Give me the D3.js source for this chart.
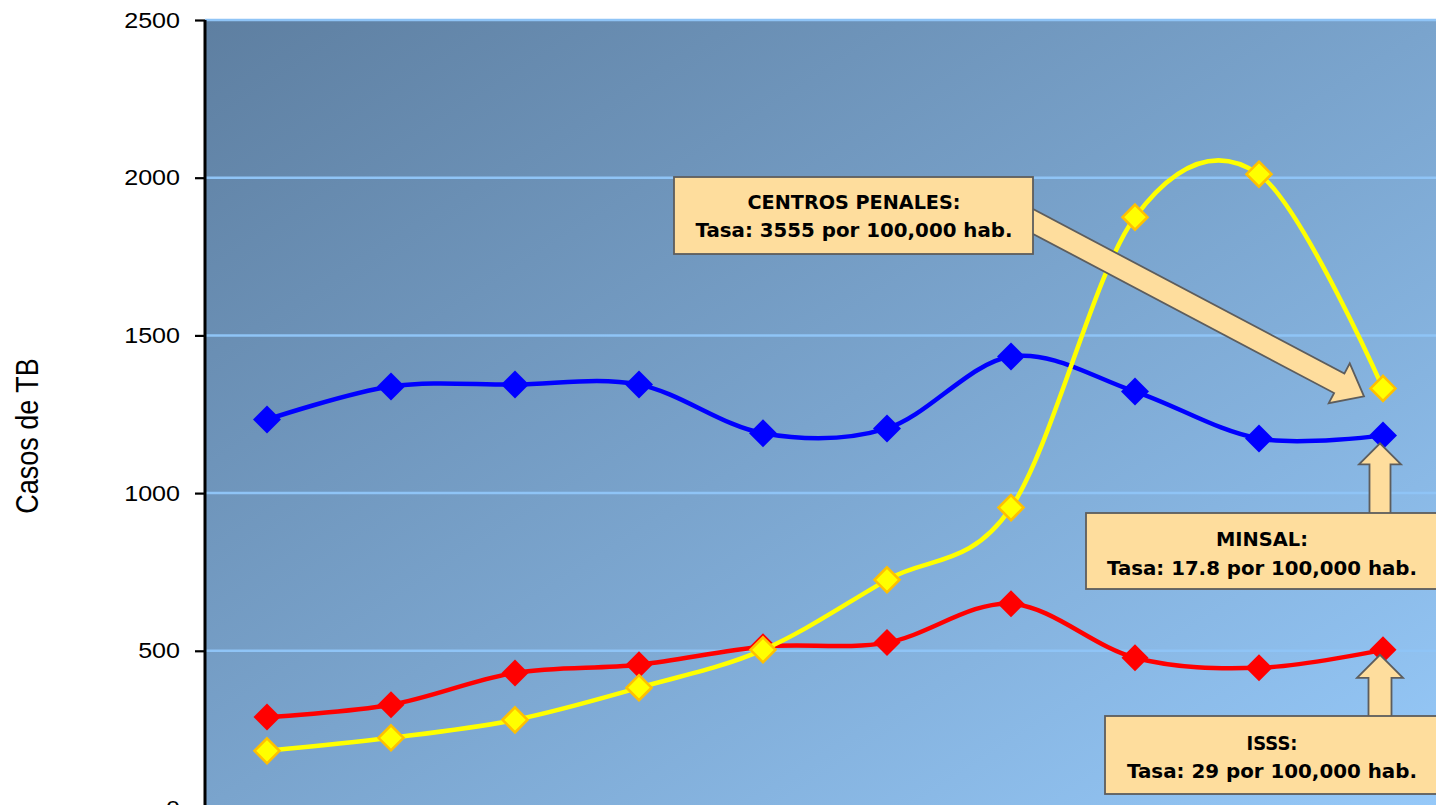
<!DOCTYPE html>
<html>
<head>
<meta charset="utf-8">
<script src="https://cdn.jsdelivr.net/npm/d3@7"></script>
<style>
html,body{margin:0;padding:0;background:#fff;overflow:hidden;}
svg{display:block;}
</style>
</head>
<body>
<svg id="chart" width="1436" height="805"></svg>
<script>
// ---- data ----
const categories = ["1999","2000","2001","2002","2003","2004","2005","2006","2007","2008"];
const minsal  = [1233,1338,1344,1344,1190,1205,1433,1322,1173,1183];
const isss    = [290,329,430,456,513,526,649,478,446,503];
const penales = [183,224,281,383,503,725,954,1875,2011,1332];
const yTicks  = [0,500,1000,1500,2000,2500];
const yTitle  = "Casos de TB";
const notes = [
  {l1:"CENTROS PENALES:", l2:"Tasa: 3555 por 100,000 hab."},
  {l1:"MINSAL:", l2:"Tasa: 17.8 por 100,000 hab."},
  {l1:"ISSS:", l2:"Tasa: 29 por 100,000 hab."}
];

// ---- layout ----
const svg = d3.select("#chart");
const L = 205, R = 1445, T = 20, B = 808.5;
const x = d3.scaleBand().domain(categories).range([L, R]).padding(0);
const cx = c => x(c) + x.bandwidth()/2;
const y = d3.scaleLinear().domain([0,2500]).range([B, T]);

const defs = svg.append("defs");
const grad = defs.append("linearGradient").attr("id","bg")
  .attr("x1","0").attr("y1","0").attr("x2","1").attr("y2","1");
grad.append("stop").attr("offset","0").attr("stop-color","#5e7fa1");
grad.append("stop").attr("offset","1").attr("stop-color","#96c9f9");

svg.append("rect").attr("x",L).attr("y",T).attr("width",R-L).attr("height",B-T)
  .attr("fill","url(#bg)");

// gridlines
svg.append("g").selectAll("line").data(yTicks.filter(d=>d>0)).join("line")
  .attr("x1",L).attr("x2",R).attr("y1",d=>y(d)).attr("y2",d=>y(d))
  .attr("stroke","#8fc4f6").attr("stroke-width",2.5);

// y axis
const yAxis = svg.append("g").attr("transform",`translate(${L},0)`)
  .call(d3.axisLeft(y).tickValues(yTicks).tickSize(10).tickFormat(d3.format("d")));
yAxis.select(".domain").remove();
yAxis.selectAll(".tick line").attr("stroke","#000").attr("stroke-width",2.2);
yAxis.selectAll(".tick text").attr("x",0).attr("text-anchor","end")
  .attr("transform","translate(-25,0) scale(1.14,1)")
  .attr("font-family","Liberation Sans, Arial, sans-serif").attr("font-size",22).attr("fill","#000");
svg.append("line").attr("x1",L).attr("x2",L).attr("y1",T).attr("y2",B)
  .attr("stroke","#000").attr("stroke-width",3);

// x axis line (categories fall below the visible area)
svg.append("g").attr("transform",`translate(0,${B})`)
  .call(d3.axisBottom(x).tickSize(0).tickFormat(""))
  .call(g=>g.select(".domain").attr("stroke","#000").attr("stroke-width",3));

// y title
svg.append("text")
  .attr("transform","translate(38,436) scale(1.15,1) rotate(-90)")
  .attr("text-anchor","middle")
  .attr("font-family","Liberation Sans, Arial, sans-serif").attr("font-size",27)
  .attr("fill","#000").text(yTitle);

// lines
const line = d3.line().x((d,i)=>cx(categories[i])).y(d=>y(d)).curve(d3.curveCardinal.tension(0));
const series = [
  {vals:minsal, color:"#0000ff", fill:"#0000ff", stroke:"none", r:14, sw:0},
  {vals:isss, color:"#ff0000", fill:"#ff0000", stroke:"none", r:13.5, sw:0},
  {vals:penales, color:"#ffff00", fill:"#ffff00", stroke:"#ffc000", r:12.5, sw:2.5}
];
series.forEach(s=>{
  svg.append("path").attr("d",line(s.vals)).attr("fill","none")
    .attr("stroke",s.color).attr("stroke-width",4.5).attr("stroke-linejoin","round");
  svg.append("g").selectAll("path").data(s.vals).join("path")
    .attr("d",`M0,${-s.r}L${s.r},0L0,${s.r}L${-s.r},0Z`)
    .attr("transform",(d,i)=>`translate(${cx(categories[i])},${y(d)})`)
    .attr("fill",s.fill).attr("stroke",s.stroke).attr("stroke-width",s.sw);
});

// ---- annotations ----
const noteFill = "#fedd9d", noteStroke = "#5d5d5d";
function blockArrow(sx,sy,tx,ty,shaftW,headW,headL){
  const dx=tx-sx, dy=ty-sy, len=Math.hypot(dx,dy);
  const ux=dx/len, uy=dy/len, px=-uy, py=ux;
  const bx=tx-ux*headL, by=ty-uy*headL;
  const pts=[
    [sx+px*shaftW/2, sy+py*shaftW/2],
    [bx+px*shaftW/2, by+py*shaftW/2],
    [bx+px*headW/2, by+py*headW/2],
    [tx,ty],
    [bx-px*headW/2, by-py*headW/2],
    [bx-px*shaftW/2, by-py*shaftW/2],
    [sx-px*shaftW/2, sy-py*shaftW/2]
  ];
  return "M"+pts.map(p=>p.join(",")).join("L")+"Z";
}
const last = categories[categories.length-1];
const arrows = [
  blockArrow(1000,204, cx(last)-19, y(penales[9])+8, 22, 45, 28),
  blockArrow(cx(last)-3,530, cx(last)-3, y(minsal[9])+8, 21, 42, 21),
  blockArrow(cx(last)-3,730, cx(last)-3, y(isss[9])+5, 23, 46, 23)
];
svg.append("g").selectAll("path").data(arrows).join("path").attr("d",d=>d)
  .attr("fill",noteFill).attr("stroke",noteStroke).attr("stroke-width",1.8).attr("stroke-linejoin","miter");

const boxes = [
  {x:674,y:177,w:359,h:77,c:854,b1:209,b2:237,t1:213,t2:317},
  {x:1086,y:513,w:352,h:76,c:1262,b1:546,b2:575,t1:92,t2:310},
  {x:1105,y:716,w:334,h:78,c:1272,b1:750,b2:778,t1:51,t2:290}
];
boxes.forEach((b,i)=>{
  svg.append("rect").attr("x",b.x).attr("y",b.y).attr("width",b.w).attr("height",b.h)
    .attr("fill",noteFill).attr("stroke",noteStroke).attr("stroke-width",1.8);
  [[notes[i].l1,b.b1,b.t1],[notes[i].l2,b.b2,b.t2]].forEach(([t,by,tl])=>{
    svg.append("text").attr("x",b.c).attr("y",by).attr("text-anchor","middle")
      .attr("font-family","DejaVu Sans, sans-serif").attr("font-weight","bold").attr("font-size",19)
      .attr("textLength",tl).attr("lengthAdjust","spacingAndGlyphs")
      .attr("fill","#000").text(t);
  });
});
</script>
</body>
</html>
